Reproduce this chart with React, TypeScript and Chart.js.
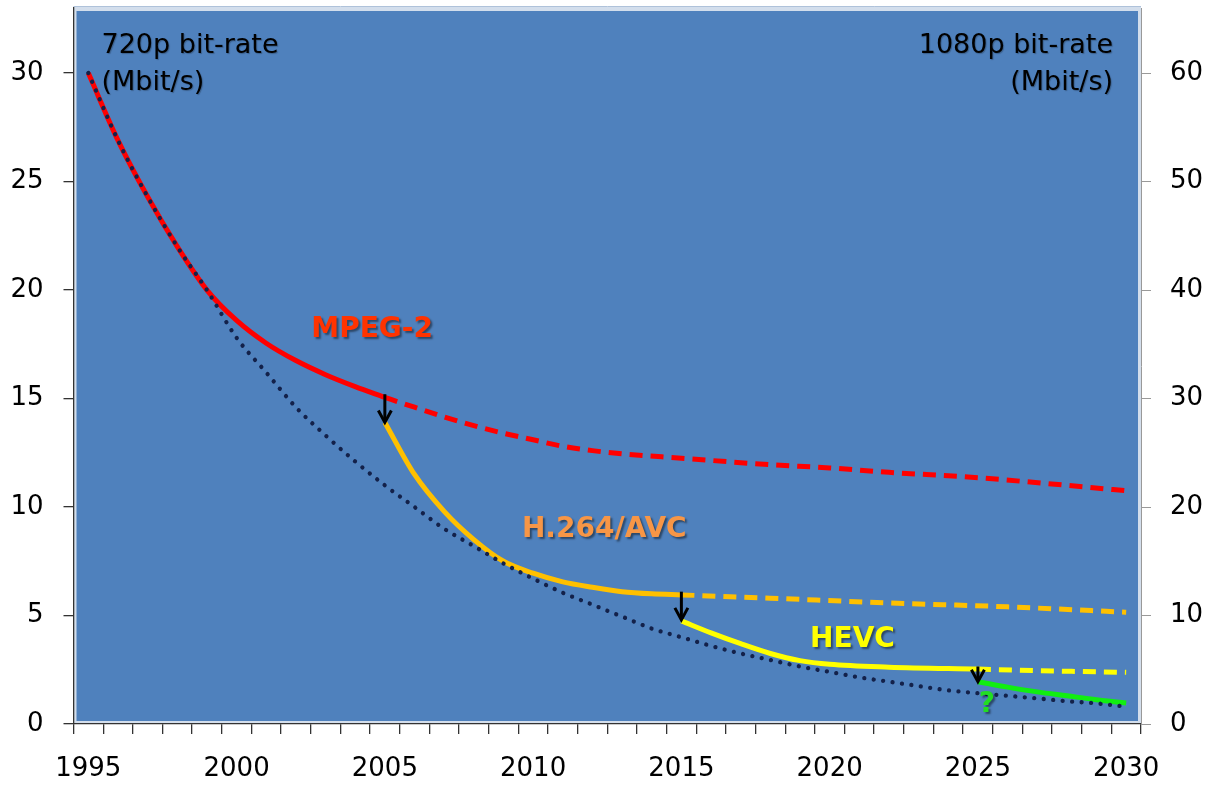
import React, { useEffect, useRef } from 'react';
import { Chart, registerables } from 'chart.js';

Chart.register(...registerables);

// ---- categories / ticks ----
const categories = [
  '1995', '1996', '1997', '1998', '1999', '2000', '2001', '2002', '2003', '2004',
  '2005', '2006', '2007', '2008', '2009', '2010', '2011', '2012', '2013', '2014',
  '2015', '2016', '2017', '2018', '2019', '2020', '2021', '2022', '2023', '2024',
  '2025', '2026', '2027', '2028', '2029', '2030',
];
const shownYearStep = 5;
const leftTickStep = 5;
const rightTickStep = 10;
const leftMax = 33;
const rightMax = 66;

// ---- series ----
const mpeg2Years = [1995, 1996, 1997, 1998, 1999, 2000, 2001, 2002, 2003, 2004, 2005];
const mpeg2Solid = [30, 26.9, 24.3, 22.0, 20.0, 18.6, 17.55, 16.75, 16.1, 15.55, 15.05];

const mpeg2DashYears = [2005, 2006, 2007, 2008, 2009, 2010, 2011, 2012, 2013, 2015, 2018, 2020, 2022, 2025, 2028, 2030];
const mpeg2Dash = [15.05, 14.6, 14.15, 13.75, 13.4, 13.1, 12.8, 12.6, 12.45, 12.25, 11.95, 11.8, 11.6, 11.35, 11.0, 10.75];

const avcYears = [2005, 2006, 2007, 2008, 2009, 2010, 2011, 2012, 2013, 2014, 2015];
const avcSolid = [13.9, 11.5, 9.8, 8.5, 7.5, 6.95, 6.55, 6.3, 6.1, 6.0, 5.95];

const avcDashYears = [2015, 2018, 2022, 2026, 2030];
const avcDash = [5.95, 5.8, 5.58, 5.4, 5.15];

const hevcYears = [2015, 2016, 2017, 2018, 2019, 2020, 2022, 2025];
const hevcSolid = [4.75, 4.2, 3.7, 3.25, 2.92, 2.75, 2.62, 2.53];

const hevcDashYears = [2025, 2027, 2030];
const hevcDash = [2.53, 2.46, 2.38];

const nextYears = [2025, 2026, 2027, 2028, 2029, 2030];
const nextSolid = [1.95, 1.7, 1.48, 1.3, 1.12, 0.97];

const trendYears = [
  1995, 1996, 1997, 1998, 1999, 2000, 2001, 2002, 2003, 2004,
  2005, 2006, 2007, 2008, 2009, 2010, 2011, 2012, 2013, 2014,
  2015, 2016, 2017, 2018, 2019, 2020, 2021, 2022, 2023, 2024,
  2025, 2026, 2027, 2028, 2029, 2030,
];
const trendValues = [
  30, 26.9, 24.3, 22.0, 20.0, 17.8, 16.2, 14.6, 13.3, 12.1,
  11.0, 10.0, 9.0, 8.2, 7.4, 6.7, 6.05, 5.5, 4.95, 4.4,
  4.0, 3.6, 3.25, 2.95, 2.65, 2.4, 2.15, 1.95, 1.75, 1.55,
  1.42, 1.3, 1.18, 1.05, 0.95, 0.8,
];

// ---- arrows (codec transitions) ----
const arrowYears = [2005, 2015, 2025];
const arrowFrom = [15.2, 6.1, 2.65];
const arrowTo = [13.9, 4.8, 1.95];

// ---- in-plot labels ----
const labelTexts = ['MPEG-2', 'H.264/AVC', 'HEVC', '?'];
const labelYears = [2004.57, 2012.4, 2020.77, 2025.3];
const labelValues = [18.16, 8.94, 3.87, 0.88];
const labelColors = ['#FF3300', '#F79646', '#FFFF00', '#22DD22'];

const leftTitle = ['720p bit-rate', '(Mbit/s)'];
const rightTitle = ['1080p bit-rate', '(Mbit/s)'];

const FONT = "'DejaVu Sans', Verdana, sans-serif";

export default function App() {
  const ref = useRef<HTMLCanvasElement>(null);

  useEffect(() => {
    if (!ref.current) return;
    const xy = (xs: number[], ys: number[]) => xs.map((x, i) => ({ x, y: ys[i] }));

    const overlay = {
      id: 'overlay',
      beforeDraw(chart: any) {
        const { ctx, chartArea: ca } = chart;
        ctx.save();
        ctx.fillStyle = '#D3DEEC';
        ctx.fillRect(ca.left, ca.top - 1, ca.right - ca.left, ca.bottom - ca.top + 1);
        ctx.fillStyle = '#4F81BD';
        ctx.fillRect(ca.left + 3, ca.top + 3, ca.right - ca.left - 6, ca.bottom - ca.top - 6);
        ctx.strokeStyle = '#AFC2DA';
        ctx.lineWidth = 1;
        ctx.beginPath();
        ctx.moveTo(ca.left, ca.top - 1.5);
        ctx.lineTo(ca.right, ca.top - 1.5);
        ctx.stroke();
        ctx.restore();
      },
      afterDatasetsDraw(chart: any) {
        const { ctx, chartArea: ca } = chart;
        const xs = chart.scales.xl;
        const ys = chart.scales.y;
        ctx.save();
        // arrows
        ctx.strokeStyle = '#000';
        ctx.lineWidth = 3;
        ctx.lineCap = 'butt';
        arrowYears.forEach((yr, i) => {
          const px = xs.getPixelForValue(yr);
          const y0 = ys.getPixelForValue(arrowFrom[i]);
          const y1 = ys.getPixelForValue(arrowTo[i]);
          ctx.beginPath();
          ctx.moveTo(px, y0);
          ctx.lineTo(px, y1 - 2);
          ctx.stroke();
          ctx.beginPath();
          ctx.moveTo(px - 6.5, y1 - 12);
          ctx.lineTo(px, y1);
          ctx.lineTo(px + 6.5, y1 - 12);
          ctx.stroke();
        });
        // labels
        ctx.font = `bold 28px ${FONT}`;
        ctx.textAlign = 'center';
        ctx.textBaseline = 'middle';
        ctx.shadowColor = 'rgba(0,0,0,0.45)';
        ctx.shadowOffsetX = 2;
        ctx.shadowOffsetY = 2;
        ctx.shadowBlur = 2;
        labelTexts.forEach((t, i) => {
          ctx.fillStyle = labelColors[i];
          ctx.fillText(t, xs.getPixelForValue(labelYears[i]), ys.getPixelForValue(labelValues[i]));
        });
        // axis titles
        ctx.shadowColor = 'rgba(0,0,0,0.25)';
        ctx.shadowOffsetX = 1;
        ctx.shadowOffsetY = 1;
        ctx.shadowBlur = 1;
        ctx.font = `27px ${FONT}`;
        ctx.fillStyle = '#000';
        ctx.textBaseline = 'alphabetic';
        ctx.textAlign = 'left';
        ctx.fillText(leftTitle[0], ca.left + 28, ca.top + 45);
        ctx.fillText(leftTitle[1], ca.left + 28, ca.top + 82);
        ctx.textAlign = 'right';
        ctx.fillText(rightTitle[0], ca.right - 28, ca.top + 45);
        ctx.fillText(rightTitle[1], ca.right - 28, ca.top + 82);
        ctx.restore();
      },
    };

    const line = (data: any[], color: string, dash: number[] = [], width = 5) => ({
      data,
      borderColor: color,
      borderWidth: width,
      borderDash: dash,
      pointRadius: 0,
      cubicInterpolationMode: 'monotone' as const,
      fill: false,
      xAxisID: 'xl',
      yAxisID: 'y',
    });

    const tickFont = { family: FONT, size: 26 };
    const noPad = (s: any) => {
      s.paddingTop = 0;
      s.paddingBottom = 0;
      s.paddingLeft = 0;
      s.paddingRight = 0;
    };

    const chart = new Chart(ref.current, {
      type: 'line',
      data: {
        labels: categories,
        datasets: [
          { ...line(xy(trendYears, trendValues), '#13214A', [0.01, 9.5], 4.3), borderCapStyle: 'round' },
          line(xy(mpeg2Years, mpeg2Solid), '#FF0000'),
          line(xy(mpeg2DashYears, mpeg2Dash), '#FF0000', [13, 8]),
          line(xy(avcYears, avcSolid), '#FFC000'),
          line(xy(avcDashYears, avcDash), '#FFC000', [13, 8]),
          line(xy(hevcYears, hevcSolid), '#FFFF00'),
          line(xy(hevcDashYears, hevcDash), '#FFFF00', [13, 8]),
          line(xy(nextYears, nextSolid), '#11EE11'),
        ] as any,
      },
      options: {
        animation: false,
        responsive: false,
        devicePixelRatio: 1,
        layout: { padding: { top: 8, left: 0, right: 0, bottom: 0 } },
        plugins: { legend: { display: false }, tooltip: { enabled: false } },
        scales: {
          x: {
            type: 'category',
            position: 'bottom',
            offset: true,
            grid: { offset: true, drawOnChartArea: false, tickLength: 10, color: '#333', lineWidth: 1.3 },
            border: { display: true, color: '#333', width: 1.3 },
            ticks: {
              autoSkip: false,
              maxRotation: 0,
              color: '#000',
              font: tickFont,
              padding: 20,
              callback: (_v: any, i: number) => (Number(categories[i]) % shownYearStep === 0 ? categories[i] : ''),
            },
            afterFit: (s: any) => { s.height = 61; noPad(s); },
          },
          xl: {
            type: 'linear',
            display: false,
            min: 1994.5,
            max: 2030.5,
          },
          y: {
            type: 'linear',
            position: 'left',
            min: 0,
            max: leftMax,
            grid: { drawOnChartArea: false, tickLength: 10, color: '#333', lineWidth: 1.3 },
            border: { display: true, color: '#333', width: 1.3 },
            ticks: { stepSize: leftTickStep, color: '#000', font: tickFont, padding: 20 },
            afterBuildTicks: (s: any) => { s.ticks = s.ticks.filter((t: any) => t.value % leftTickStep === 0); },
            afterFit: (s: any) => { s.width = 73.5; noPad(s); },
          },
          y2: {
            type: 'linear',
            position: 'right',
            min: 0,
            max: rightMax,
            grid: { drawOnChartArea: false, tickLength: 10, color: '#999', lineWidth: 1 },
            border: { display: true, color: '#999', width: 1 },
            ticks: { stepSize: rightTickStep, color: '#000', font: tickFont, padding: 19 },
            afterBuildTicks: (s: any) => { s.ticks = s.ticks.filter((t: any) => t.value % rightTickStep === 0); },
            afterFit: (s: any) => { s.width = 75; noPad(s); },
          },
        },
      },
      plugins: [overlay],
    } as any);

    return () => chart.destroy();
  }, []);

  return (
    <div style={{ position: 'absolute', left: 0, top: 0, width: 1216, height: 785, background: '#fff' }}>
      <canvas ref={ref} width={1216} height={785} style={{ display: 'block' }} />
    </div>
  );
}
